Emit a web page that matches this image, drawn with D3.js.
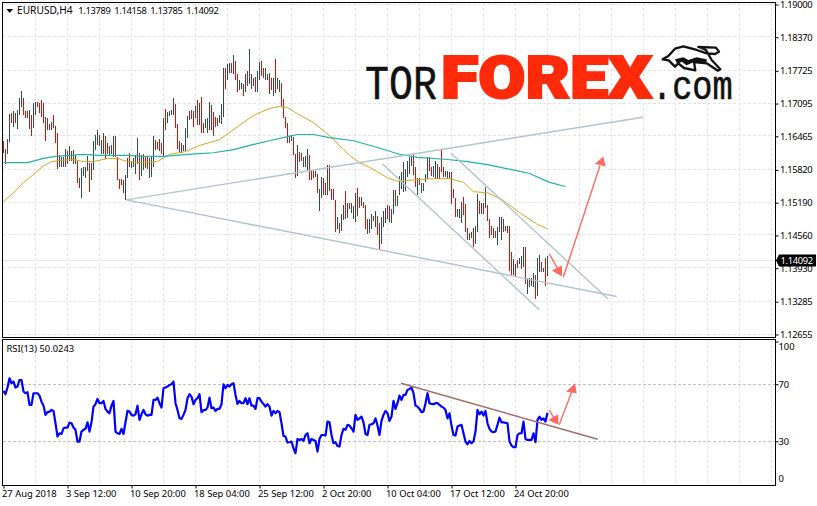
<!DOCTYPE html>
<html>
<head>
<meta charset="utf-8">
<script src="https://cdn.jsdelivr.net/npm/d3@7"></script>
<style>
  html, body { margin: 0; padding: 0; background: #fff; overflow: hidden; }
  text { font-family: "Noto Sans", "Liberation Sans", sans-serif; font-size: 9.4px; fill: #000; }
  .num { letter-spacing: -0.35px; }
</style>
</head>
<body>
<svg id="canvas" width="817" height="506"></svg>
<script>
// bar values. barUp: 1 = dark bar, 0 = red bar
let barHigh = [
  1.1637,1.1623,1.1642,1.1690,1.1692,1.1696,1.1692,1.1698,1.1721,1.1733,
  1.1721,1.1696,1.1696,1.1698,1.1687,1.1710,1.1712,1.1712,1.1710,1.1717,
  1.1710,1.1683,1.1681,1.1671,1.1675,1.1688,1.1667,1.1652,1.1610,1.1606,
  1.1606,1.1623,1.1619,1.1627,1.1619,1.1621,1.1610,1.1600,1.1567,1.1585,
  1.1588,1.1587,1.1608,1.1596,1.1596,1.1638,1.1650,1.1658,1.1650,1.1640,
  1.1652,1.1648,1.1633,1.1627,1.1629,1.1648,1.1648,1.1606,1.1565,1.1565,
  1.1562,1.1573,1.1604,1.1615,1.1600,1.1604,1.1610,1.1644,1.1615,1.1610,
  1.1612,1.1606,1.1606,1.1604,1.1606,1.1648,1.1640,1.1635,1.1642,1.1633,
  1.1681,1.1700,1.1694,1.1696,1.1698,1.1721,1.1708,1.1671,1.1637,1.1633,
  1.1629,1.1662,1.1685,1.1696,1.1698,1.1696,1.1704,1.1717,1.1710,1.1723,
  1.1673,1.1679,1.1681,1.1713,1.1706,1.1694,1.1683,1.1681,1.1687,1.1708,
  1.1777,1.1777,1.1785,1.1787,1.1787,1.1802,1.1792,1.1767,1.1754,1.1750,
  1.1748,1.1767,1.1773,1.1815,1.1767,1.1758,1.1760,1.1773,1.1790,1.1792,
  1.1777,1.1777,1.1767,1.1769,1.1758,1.1758,1.1796,1.1758,1.1754,1.1750,
  1.1719,1.1683,1.1673,1.1648,1.1648,1.1646,1.1613,1.1629,1.1617,1.1615,
  1.1606,1.1608,1.1623,1.1610,1.1579,1.1579,1.1579,1.1575,1.1546,1.1569,
  1.1567,1.1556,1.1592,1.1592,1.1546,1.1546,1.1525,1.1492,1.1479,1.1498,
  1.1515,1.1542,1.1519,1.1519,1.1519,1.1513,1.1537,1.1548,1.1529,1.1529,
  1.1521,1.1515,1.1487,1.1487,1.1498,1.1494,1.1502,1.1494,1.1479,1.1492,
  1.1502,1.1508,1.1515,1.1513,1.1506,1.1544,1.1544,1.1531,1.1571,1.1577,
  1.1598,1.1583,1.1600,1.1606,1.1608,1.1610,1.1587,1.1567,1.1567,1.1556,
  1.1556,1.1575,1.1606,1.1606,1.1587,1.1590,1.1600,1.1594,1.1587,1.1621,
  1.1587,1.1579,1.1579,1.1577,1.1577,1.1546,1.1527,1.1506,1.1506,1.1521,
  1.1529,1.1517,1.1471,1.1460,1.1462,1.1471,1.1475,1.1535,1.1523,1.1519,
  1.1519,1.1550,1.1515,1.1487,1.1475,1.1471,1.1465,1.1473,1.1492,1.1492,
  1.1488,1.1475,1.1475,1.1475,1.1425,1.1410,1.1402,1.1408,1.1413,1.1417,
  1.1433,1.1433,1.1375,1.1375,1.1375,1.1383,1.1379,1.1412,1.1419,1.1404,
  1.1394,1.1412,1.14158
]
let barLow = [
  1.1615,1.1594,1.1613,1.1635,1.1673,1.1665,1.1673,1.1660,1.1687,1.1702,
  1.1688,1.1681,1.1681,1.1660,1.1648,1.1662,1.1687,1.1702,1.1692,1.1683,
  1.1673,1.1638,1.1658,1.1658,1.1658,1.1663,1.1633,1.1583,1.1587,1.1587,
  1.1587,1.1588,1.1594,1.1600,1.1600,1.1594,1.1594,1.1556,1.1548,1.1527,
  1.1571,1.1567,1.1579,1.1540,1.1563,1.1581,1.1621,1.1629,1.1627,1.1613,
  1.1613,1.1602,1.1612,1.1610,1.1612,1.1606,1.1606,1.1563,1.1546,1.1552,
  1.1537,1.1525,1.1567,1.1587,1.1585,1.1587,1.1575,1.1594,1.1563,1.1571,
  1.1581,1.1585,1.1583,1.1567,1.1569,1.1587,1.1621,1.1623,1.1619,1.1613,
  1.1606,1.1658,1.1673,1.1685,1.1687,1.1688,1.1663,1.1623,1.1617,1.1615,
  1.1619,1.1619,1.1644,1.1677,1.1679,1.1665,1.1681,1.1669,1.1669,1.1652,
  1.1652,1.1662,1.1652,1.1658,1.1658,1.1648,1.1665,1.1667,1.1673,1.1671,
  1.1683,1.1737,1.1754,1.1769,1.1769,1.1767,1.1754,1.1731,1.1735,1.1737,
  1.1725,1.1731,1.1744,1.1748,1.1738,1.1744,1.1731,1.1731,1.1754,1.1763,
  1.1758,1.1754,1.1754,1.1727,1.1735,1.1725,1.1729,1.1738,1.1731,1.1702,
  1.1681,1.1662,1.1633,1.1633,1.1638,1.1610,1.1567,1.1571,1.1598,1.1600,
  1.1588,1.1587,1.1581,1.1562,1.1563,1.1567,1.1569,1.1538,1.1502,1.1527,
  1.1533,1.1533,1.1533,1.1542,1.1525,1.1525,1.1462,1.1469,1.1460,1.1465,
  1.1485,1.1488,1.1490,1.1506,1.1500,1.1488,1.1481,1.1494,1.1508,1.1513,
  1.1508,1.1469,1.1458,1.1460,1.1469,1.1483,1.1473,1.1456,1.1429,1.1440,
  1.1473,1.1479,1.1487,1.1481,1.1479,1.1498,1.1513,1.1513,1.1533,1.1546,
  1.1540,1.1542,1.1569,1.1575,1.1590,1.1573,1.1550,1.1533,1.1552,1.1537,
  1.1542,1.1558,1.1565,1.1579,1.1571,1.1569,1.1565,1.1565,1.1565,1.1577,
  1.1569,1.1569,1.1565,1.1565,1.1517,1.1527,1.1492,1.1492,1.1490,1.1479,
  1.1496,1.1463,1.1448,1.1448,1.1452,1.1433,1.1440,1.1462,1.1498,1.1498,
  1.1498,1.1508,1.1483,1.1452,1.1456,1.1452,1.1452,1.1437,1.1463,1.1448,
  1.1463,1.1465,1.1460,1.1388,1.1379,1.1379,1.1377,1.1394,1.1402,1.1392,
  1.1396,1.1362,1.1344,1.1356,1.1358,1.1356,1.1333,1.1340,1.1385,1.1385,
  1.1385,1.1358,1.13785
]
let barUp = [
  0,0,1,1,0,1,0,1,1,1, 0,0,0,1,0,1,1,0,0,0, 0,0,1,0,1,0,0,0,1,1,
  1,1,0,1,1,0,1,0,0,1, 1,1,1,0,1,1,1,1,0,1, 1,0,0,0,1,1,0,0,0,0,
  0,1,1,0,1,1,1,1,0,1, 1,0,0,1,1,1,0,0,0,0, 1,0,1,1,1,1,0,0,0,1,
  0,1,1,1,0,0,1,0,1,0, 0,1,1,1,0,0,0,0,1,1, 1,0,1,1,0,1,0,0,1,1,
  0,1,0,1,1,1,0,1,1,0, 0,1,1,0,0,1,0,1,1,0, 0,0,0,1,1,0,0,1,0,0,
  1,1,1,0,0,0,1,0,1,1, 0,0,1,0,0,0,0,1,0,1, 1,0,1,0,1,1,1,0,0,1,
  0,0,0,1,1,0,1,0,0,1, 1,1,0,0,1,1,0,1,1,1, 1,1,1,1,1,0,0,1,0,1,
  1,1,1,0,0,1,1,1,0,0, 0,1,1,1,0,0,0,1,1,1, 0,0,0,1,1,0,1,1,0,1,
  0,1,0,0,0,1,0,1,1,1, 0,0,1,0,0,1,0,0,1,1, 1,0,1,0,1,1,0,1,1,0,
  1,0,1
]
let rsiValues = [
  65.3,63,67.7,74.2,70.7,71.9,67.7,68.4,73,73,
  64.9,63.7,64.4,55.5,55.5,63.7,63.7,63.7,62,57.8,
  55,48.5,50.4,50.8,52,51.3,42.6,33.3,35.6,35.1,
  39.1,39.6,39.6,43.1,42.6,39.6,38,29.8,29.8,36.8,
  38,38.7,43.3,36.8,43.3,54.3,56,59.7,56.7,56.7,
  58.3,52.7,50.8,49.6,55,58.3,36.8,35.6,35.1,38.7,
  35.1,43.3,51.3,50.8,48.5,48,48.9,55,45,48.9,
  52,48.9,48,48.5,48.5,59,59,60.6,56.7,53.6,
  67.2,67.7,68.4,69.5,70,71.9,56.7,52,46.1,45.7,
  48.5,52,60.2,63,61.3,56,59,60.2,63,50.4,
  51.8,52,53.6,60.6,53.2,53.6,51.3,52.7,52.7,56,
  70,67.2,69.5,68.4,70,70.7,62.5,56.2,58.3,56.7,
  56.7,60.2,56,60.2,55,55,52.7,60.2,60.2,57.8,
  56.2,54.3,56,54.3,48,51.3,49.6,51.3,50.4,
  42.6,33.7,33.3,29.1,29.3,29.8,25.1,21.6,31.6,30.9,
  31.6,30.2,34.4,35.6,28.6,31.6,30.9,30.2,22.7,31.6,
  34.4,34.4,34,43.8,43.3,34.4,28.6,29.3,26.7,26.3,
  34.4,38.7,38,41.5,41,39.1,36.8,48.5,45,46.1,
  47.3,43.3,35.1,34.4,41.5,41.9,42.6,46.1,41,34.4,
  44.3,48.5,51.3,49.6,44.3,47.3,58.3,52.7,56.7,62,
  59,62.5,62.5,66,66.7,67.7,63.7,55,54.3,52.7,
  50.4,50.8,56.7,63.7,56.7,56.2,56,56.7,56.7,55.5,
  54.3,53.6,52,46.1,49.6,41,34.4,34,40.3,41,
  41.5,35.6,29.8,27.9,30.2,28.6,29.8,36.8,52,48.9,
  50.8,48,51.3,42.6,38.7,36.8,36.3,36.8,41.5,46.6,
  43.3,43.3,42.9,42.6,29.8,27,25.8,25.8,34.4,35.6,
  35.6,43.8,31.6,30.9,30.9,30.9,35.6,29.3,45,47.3,
  45,46.1,43.8,50.02
]

// moving averages: bar number and price
let orangeBars = [0,5,10,15,20,24,28,35,40,45,52,57,62,68,77,83,91,98,108,117,125,133,138,142,147,155,163,170,173,178,183,192,197,203,213,223,230,235,242,250,258,267,272]
let orangePrices = [1.1521,1.1538,1.1558,1.1573,1.1590,1.1598,1.1600,1.1602,1.1598,1.1598,1.1604,1.1604,1.1598,1.1596,1.1598,1.1612,1.1617,1.1629,1.1640,1.1665,1.1687,1.1700,1.1704,1.1702,1.1690,1.1673,1.1648,1.1621,1.1610,1.1596,1.1587,1.1567,1.1560,1.1562,1.1565,1.1565,1.1558,1.1540,1.1538,1.1523,1.1500,1.1477,1.1469]
let tealBars = [0,12,20,26,40,48,62,70,80,92,105,115,125,133,142,147,155,163,175,187,198,207,222,232,242,256,263,273,281]
let tealPrices = [1.1596,1.1596,1.1604,1.1608,1.1612,1.1610,1.1610,1.1608,1.1608,1.1612,1.1615,1.1621,1.1631,1.1638,1.1646,1.1650,1.1650,1.1644,1.1638,1.1625,1.1612,1.1606,1.1602,1.1598,1.1592,1.1581,1.1575,1.1558,1.1550]

// drawn objects: [bar, value] pairs
let priceTrendLines = [
  [[61.4, 1.15244], [319.75, 1.16833]],
  [[61.4, 1.15244], [306.6, 1.13385]],
  [[189.4, 1.15937], [267.9, 1.13129]],
  [[223.75, 1.16141], [302.1, 1.13341]]
]
let priceArrowLines = [
  [[272.9, 1.14206], [278.25, 1.13846]],
  [[279.9, 1.13756], [298.25, 1.15904]]
]
let priceArrowHeads = [
  [[274.1, 1.13885], [279.25, 1.13981], [279.25, 1.13769]],
  [[299.9, 1.16077], [295.75, 1.15937], [301.1, 1.15885]]
]
let rsiTrendLine = [[198.75, 70.7], [297.1, 31.4]]
let rsiArrowLines = [
  [[272.9, 52], [275.75, 45]],
  [[277.9, 41.5], [284.1, 64.8]]
]
let rsiArrowHeads = [
  [[272.4, 45], [277.4, 49], [277.4, 41.5]],
  [[285.75, 70.7], [281.25, 64.8], [286.6, 63.7]]
]

let priceTicks = [1.19, 1.1837, 1.17725, 1.17095, 1.16465, 1.1582, 1.1519, 1.1456, 1.1393, 1.13285, 1.12655]
let rsiTicks = [100, 70, 30, 0]
let rsiLevels = [70, 30]
let lastPrice = 1.14092
let titleBars = ['1.13789', '1.14158', '1.13785', '1.14092']
let timeTicks = [0, 32, 64, 96, 128, 160, 192, 224, 256]
let timeLabels = ['27 Aug 2018', '3 Sep 12:00', '10 Sep 20:00', '18 Sep 04:00', '25 Sep 12:00', '2 Oct 20:00', '10 Oct 04:00', '17 Oct 12:00', '24 Oct 20:00']
let gridBars = d3.range(16, 386, 16)

let svg = d3.select('#canvas')

let x = d3.scaleLinear().domain([0, 386]).range([3.5, 775.5])
let y = d3.scaleLinear().domain([1.12655, 1.19]).range([334.5, 4.5])
let yRsi = d3.scaleLinear().domain([0, 100]).range([484, 341.5])

let priceLine = d3.line().x(d => x(d[0])).y(d => y(d[1]))
let rsiLine = d3.line().x(d => x(d[0])).y(d => yRsi(d[1]))

let gridColor = '#e4e4e4'

let drawGrid = () => {
    svg.selectAll('.vgrid')
        .data(gridBars)
        .enter()
        .append('line')
        .attr('class', 'vgrid')
        .attr('x1', d => x(d))
        .attr('x2', d => x(d))
        .attr('y1', 3)
        .attr('y2', 337)
        .attr('stroke', gridColor)
        .attr('stroke-dasharray', '3,2')

    svg.selectAll('.vgrid2')
        .data(gridBars)
        .enter()
        .append('line')
        .attr('class', 'vgrid2')
        .attr('x1', d => x(d))
        .attr('x2', d => x(d))
        .attr('y1', 340)
        .attr('y2', 485)
        .attr('stroke', gridColor)
        .attr('stroke-dasharray', '3,2')

    svg.selectAll('.hgrid')
        .data(priceTicks)
        .enter()
        .append('line')
        .attr('class', 'hgrid')
        .attr('x1', 3)
        .attr('x2', 775)
        .attr('y1', d => Math.round(y(d)) - 0.5)
        .attr('y2', d => Math.round(y(d)) - 0.5)
        .attr('stroke', gridColor)
        .attr('stroke-dasharray', '3,2')

    svg.selectAll('.level')
        .data(rsiLevels)
        .enter()
        .append('line')
        .attr('class', 'level')
        .attr('x1', 3)
        .attr('x2', 775)
        .attr('y1', d => Math.round(yRsi(d)) + 0.5)
        .attr('y2', d => Math.round(yRsi(d)) + 0.5)
        .attr('stroke', '#c0c0c0')
        .attr('stroke-dasharray', '3,2')

    svg.append('line')
        .attr('x1', 3)
        .attr('x2', 775)
        .attr('y1', Math.round(y(lastPrice)) + 0.5)
        .attr('y2', Math.round(y(lastPrice)) + 0.5)
        .attr('stroke', '#e6e6e6')
}

let drawLogo = () => {
    let logo = svg.append('g').attr('class', 'logo')

    logo.append('text')
        .text('TOR')
        .attr('transform', 'translate(365,98.5) scale(0.815,1)')
        .style('font-family', '"Liberation Mono"')
        .style('font-size', '49px')
        .style('fill', '#111')
        .style('stroke', '#111')
        .style('stroke-width', 0.5)

    logo.append('text')
        .text('FOREX')
        .attr('x', 441)
        .attr('y', 98)
        .attr('textLength', 211)
        .attr('lengthAdjust', 'spacingAndGlyphs')
        .style('font-family', 'Roboto')
        .style('font-weight', 900)
        .style('font-size', '60px')
        .style('fill', '#ff2a0a')
        .style('stroke', '#ff2a0a')
        .style('stroke-width', 2.2)

    logo.append('text')
        .text('.com')
        .attr('transform', 'translate(652,98.5) scale(0.84,1)')
        .style('font-family', '"Liberation Mono"')
        .style('font-size', '40px')
        .style('fill', '#111')
        .style('stroke', '#111')
        .style('stroke-width', 0.6)

    // bull mark, outlined by hand from the logo
    logo.append('path')
        .attr('transform', 'translate(540,0) scale(0.3333)')
        .attr('d', 'M368,178 L385,168 L405,146 L430,139 L470,150 L500,160 L525,162 L537,155 L528,143 L475,141 L498,150 L515,180 L541,208 L534,212 L500,190 L462,186 L466,211 L432,204 L415,190 L405,200 L386,181 Z')
        .attr('fill', '#fff')
        .attr('stroke', '#111')
        .attr('stroke-width', 7)
        .attr('stroke-linejoin', 'round')

    logo.append('path')
        .attr('transform', 'translate(540,0) scale(0.3333)')
        .attr('d', 'M405,178 L430,172 L445,180 L470,172 L500,178 L500,188 L462,186 L440,196 L425,185 L412,192 Z')
        .attr('fill', '#111')
}

let drawBars = () => {
    svg.selectAll('.bar')
        .data(barHigh)
        .enter()
        .append('line')
        .attr('class', 'bar')
        .attr('x1', (d, i) => x(i))
        .attr('x2', (d, i) => x(i))
        .attr('y1', d => y(d))
        .attr('y2', (d, i) => y(barLow[i]))
        .attr('stroke', (d, i) => barUp[i] ? '#2f4f4f' : '#e60a0a')
        .attr('stroke-width', 1)
        .attr('shape-rendering', 'crispEdges')
}

let drawAverages = () => {
    svg.append('path')
        .datum(orangeBars.map((b, i) => [b, orangePrices[i]]))
        .attr('d', priceLine)
        .attr('fill', 'none')
        .attr('stroke', '#daa520')
        .attr('stroke-width', 1)

    svg.append('path')
        .datum(tealBars.map((b, i) => [b, tealPrices[i]]))
        .attr('d', priceLine)
        .attr('fill', 'none')
        .attr('stroke', '#20b2aa')
        .attr('stroke-width', 1.2)
}

let drawObjects = () => {
    svg.selectAll('.trend')
        .data(priceTrendLines)
        .enter()
        .append('path')
        .attr('class', 'trend')
        .attr('d', priceLine)
        .attr('fill', 'none')
        .attr('stroke', '#aec4d2')
        .attr('stroke-width', 1.4)

    svg.selectAll('.arrow')
        .data(priceArrowLines)
        .enter()
        .append('path')
        .attr('class', 'arrow')
        .attr('d', priceLine)
        .attr('fill', 'none')
        .attr('stroke', '#ff6b60')
        .attr('stroke-width', 1.4)

    svg.selectAll('.arrowhead')
        .data(priceArrowHeads)
        .enter()
        .append('path')
        .attr('class', 'arrowhead')
        .attr('d', d => priceLine(d) + 'Z')
        .attr('fill', '#ff6b60')
}

let drawRsi = () => {
    svg.append('path')
        .datum(rsiValues.map((v, i) => [i, v]))
        .attr('d', rsiLine)
        .attr('fill', 'none')
        .attr('stroke', '#0000ff')
        .attr('stroke-width', 2.2)
        .attr('stroke-linejoin', 'round')

    svg.append('path')
        .datum(rsiTrendLine)
        .attr('d', rsiLine)
        .attr('fill', 'none')
        .attr('stroke', '#a86a6a')
        .attr('stroke-width', 1.4)

    svg.selectAll('.rsiarrow')
        .data(rsiArrowLines)
        .enter()
        .append('path')
        .attr('class', 'rsiarrow')
        .attr('d', rsiLine)
        .attr('fill', 'none')
        .attr('stroke', '#ff6b60')
        .attr('stroke-width', 1.4)

    svg.selectAll('.rsiarrowhead')
        .data(rsiArrowHeads)
        .enter()
        .append('path')
        .attr('class', 'rsiarrowhead')
        .attr('d', d => rsiLine(d) + 'Z')
        .attr('fill', '#ff6b60')
}

let drawFrame = () => {
    let panels = [[2.5, 775.5, 2.5, 337.5], [2.5, 775.5, 339.5, 485.5]]
    svg.selectAll('.frame')
        .data(panels)
        .enter()
        .append('rect')
        .attr('class', 'frame')
        .attr('x', d => d[0])
        .attr('y', d => d[2])
        .attr('width', d => d[1] - d[0])
        .attr('height', d => d[3] - d[2])
        .attr('fill', 'none')
        .attr('stroke', '#000')
}

let drawAxes = () => {
    let priceAxis = d3.axisRight(y)
        .tickValues(priceTicks)
        .tickFormat(d3.format('.5f'))
        .tickSize(3)
        .tickPadding(1.5)
    let priceG = svg.append('g')
        .attr('transform', 'translate(775.5,0)')
        .call(priceAxis)
    priceG.select('.domain').remove()
    priceG.selectAll('text')
        .style('font-size', null)
        .style('font-family', null)
        .attr('class', 'num')

    let rsiAxis = d3.axisRight(yRsi)
        .tickValues(rsiTicks)
        .tickSize(3)
        .tickPadding(0)
    let rsiG = svg.append('g')
        .attr('transform', 'translate(775.5,0)')
        .call(rsiAxis)
    rsiG.select('.domain').remove()
    rsiG.selectAll('text')
        .style('font-size', null)
        .style('font-family', null)
        .attr('dy', d => d === 100 ? '0.85em' : d === 0 ? '-0.25em' : '0.32em')
    rsiG.selectAll('.tick line').filter(d => d === 0).remove()

    let timeAxis = d3.axisBottom(x)
        .tickValues(timeTicks)
        .tickFormat((d, i) => timeLabels[i])
        .tickSize(3)
        .tickPadding(2)
    let timeG = svg.append('g')
        .attr('transform', 'translate(0,485.5)')
        .call(timeAxis)
    timeG.select('.domain').remove()
    timeG.selectAll('text')
        .style('font-size', null)
        .style('font-family', null)
        .attr('text-anchor', 'start')
        .attr('x', -2)

    // last price tag over the scale
    let tagY = Math.round(y(lastPrice)) + 0.5
    svg.append('path')
        .attr('d', d3.line()([[776, tagY], [779, tagY - 6], [816, tagY - 6], [816, tagY + 6], [779, tagY + 6]]) + 'Z')
        .attr('fill', '#000')
    svg.append('text')
        .text(d3.format('.5f')(lastPrice))
        .attr('class', 'num')
        .attr('x', 780.5)
        .attr('y', tagY + 3.3)
        .style('fill', '#fff')
}

let drawTitles = () => {
    svg.append('path')
        .attr('d', 'M6.5,9 L13,9 L9.7,13 Z')
        .attr('fill', '#000')

    svg.append('text')
        .text('EURUSD,H4')
        .attr('x', 17)
        .attr('y', 14)
        .style('font-size', '10.2px')

    svg.selectAll('.ohlc')
        .data(titleBars)
        .enter()
        .append('text')
        .attr('class', 'ohlc num')
        .text(d => d)
        .attr('x', (d, i) => 78.3 + i * 36)
        .attr('y', 14)

    svg.append('text')
        .text('RSI(13) 50.0243')
        .attr('x', 6.5)
        .attr('y', 352)
}

drawGrid()
drawLogo()
drawBars()
drawAverages()
drawObjects()
drawRsi()
drawFrame()
drawAxes()
drawTitles()
</script>
</body>
</html>
